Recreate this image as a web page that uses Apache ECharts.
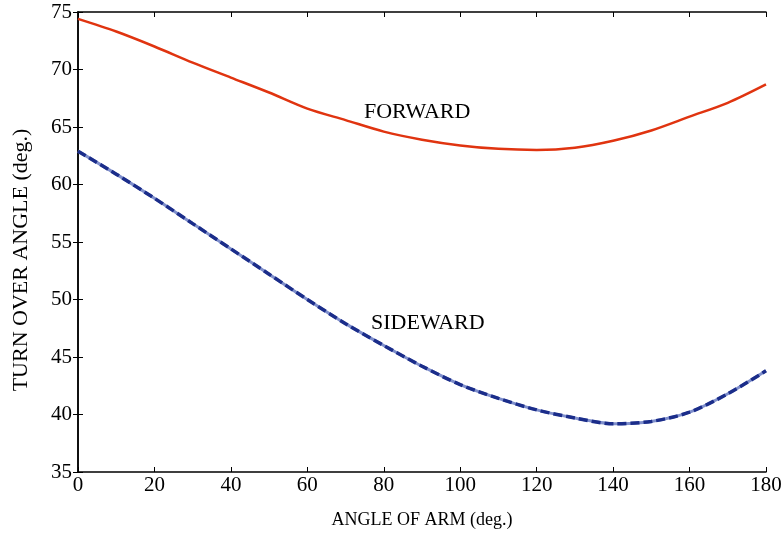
<!DOCTYPE html>
<html>
<head>
<meta charset="utf-8">
<script src="https://cdn.jsdelivr.net/npm/echarts@6/dist/echarts.min.js"></script>
<style>
  html, body { margin: 0; padding: 0; background: #fff; }
  #chart { width: 782px; height: 535px; }
</style>
</head>
<body>
<div id="chart"></div>
<script>
// angle of arm (deg.)
var armAngles = [0, 10, 20, 30, 40, 50, 60, 70, 80, 90, 100, 110, 120, 130, 140, 150, 160, 170, 180];
var forward = [74.4, 73.3, 72.0, 70.6, 69.3, 68.0, 66.6, 65.6, 64.6, 63.9, 63.4, 63.1, 63.0, 63.2, 63.8, 64.7, 65.9, 67.1, 68.7];
var sideward = [62.9, 60.9, 58.8, 56.6, 54.4, 52.2, 50.0, 47.9, 46.0, 44.2, 42.6, 41.4, 40.4, 39.7, 39.2, 39.4, 40.2, 41.8, 43.8];

function pairs(ys) {
  return armAngles.map(function (x, i) { return [x, ys[i]]; });
}

var serif = 'Liberation Serif, DejaVu Serif, serif';
var myChart = echarts.init(document.getElementById('chart'));

function axisBase(show) {
  return {
    axisLine: { show: true, lineStyle: { color: '#000', width: 1.5 } },
    axisTick: { show: true, inside: true, length: 5, lineStyle: { color: '#000', width: 1 } },
    splitLine: { show: false },
    axisLabel: { show: show, color: '#000', fontFamily: serif, fontSize: 21 }
  };
}

var xBottom = Object.assign(axisBase(true), {
  type: 'value', min: 0, max: 180, interval: 20, position: 'bottom',
  name: 'ANGLE OF ARM (deg.)', nameLocation: 'middle', nameGap: 39,
  nameTextStyle: { color: '#000', fontFamily: serif, fontSize: 18 }
});
xBottom.axisLabel.margin = 3;
var xTop = Object.assign(axisBase(false), { type: 'value', min: 0, max: 180, interval: 20, position: 'top' });

var yLeft = Object.assign(axisBase(true), {
  type: 'value', min: 35, max: 75, interval: 5, position: 'left',
  name: 'TURN OVER ANGLE (deg.)', nameLocation: 'middle', nameGap: 46,
  nameTextStyle: { color: '#000', fontFamily: serif, fontSize: 22, padding: [0, 36, 0, 0] }
});
yLeft.axisLabel.margin = 6;
var yRight = Object.assign(axisBase(false), { type: 'value', min: 35, max: 75, interval: 5, position: 'right' });

var option = {
  animation: false,
  grid: { left: 78, right: 16, top: 12, bottom: 63, containLabel: false, outerBoundsMode: 'none' },
  xAxis: [xBottom, xTop],
  yAxis: [yLeft, yRight],
  series: [
    {
      name: 'FORWARD', type: 'line', data: pairs(forward), showSymbol: false, smooth: 0.3,
      lineStyle: { color: '#e03410', width: 2.5 }
    },
    {
      name: 'SIDEWARD_base', type: 'line', data: pairs(sideward), showSymbol: false, smooth: 0.3,
      lineStyle: { color: '#7f8fcc', width: 3 }
    },
    {
      name: 'SIDEWARD', type: 'line', data: pairs(sideward), showSymbol: false, smooth: 0.3,
      lineStyle: { color: '#1b2d8a', width: 3.5, type: [9, 4] }
    }
  ],
  graphic: [
    { type: 'text', left: 364, top: 101, style: { text: 'FORWARD', fill: '#000', font: '22px ' + serif } },
    { type: 'text', left: 371, top: 312, style: { text: 'SIDEWARD', fill: '#000', font: '22px ' + serif } }
  ]
};

myChart.setOption(option);
window.addEventListener('resize', function () { myChart.resize(); });
</script>
</body>
</html>
